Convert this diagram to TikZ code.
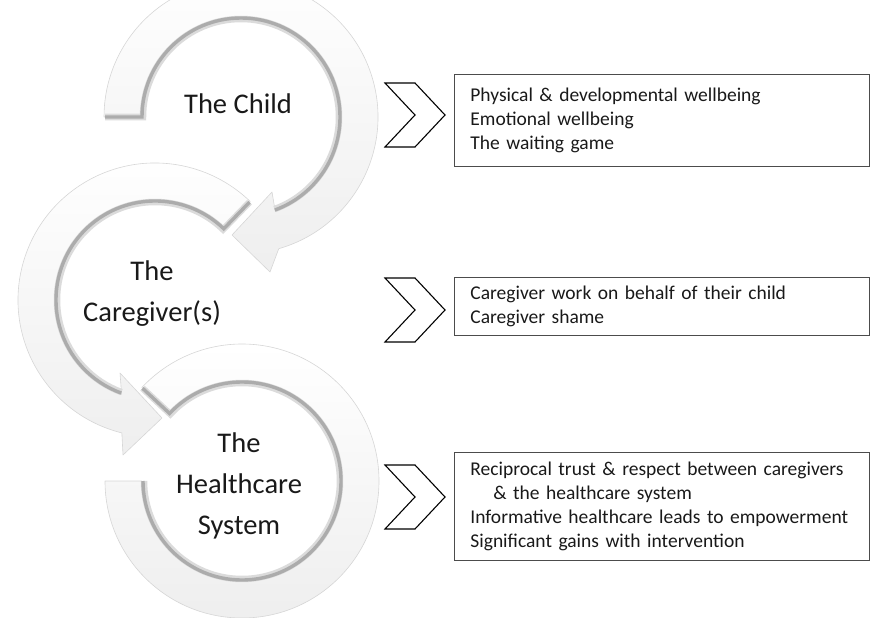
\documentclass[tikz,border=0pt]{standalone}
\usepackage{fontspec}
\setmainfont{Carlito}
\begin{document}
\begin{tikzpicture}[x=1pt, y=1pt,
    band/.style={top color=white, bottom color=gray!13, draw=gray!32, line width=0.6pt, line join=round},
    rim/.style={draw=gray!65, line width=3.4pt},
    rimsoft/.style={draw=gray!28, line width=6.5pt},
    chev/.style={draw=black, fill=white, line width=1.1pt, line join=miter},
    infobox/.style={draw=black!70, line width=0.8pt, anchor=north west, minimum width=415pt,
        text width=383pt, inner xsep=16pt, align=left, font=\fontsize{19.5}{23.7}\selectfont, text=black!90},
    title/.style={align=center, font=\fontsize{28.5}{41}\selectfont, text=black!90}]
    \useasboundingbox (0,0) rectangle (879,-618);

    \coordinate (c1) at (241,-117);
    \coordinate (c2) at (155,-300);
    \coordinate (c3) at (242,-481);

    % circle arrows
    \path[band] ([shift={(180:137)}]c1) -- ([shift={(180:100)}]c1) arc[start angle=180, end angle=-70, radius=100]
        -- (272,-192) -- (232,-235) -- (270,-272) -- ([shift={(-74:137)}]c1) arc[start angle=-74, end angle=180, radius=137] -- cycle;
    \path[band] ([shift={(46:137)}]c2) -- ([shift={(46:100)}]c2) arc[start angle=46, end angle=250.5, radius=100]
        -- (120,-373) -- (162,-418) -- (123,-455) -- ([shift={(256:137)}]c2) arc[start angle=256, end angle=46, radius=137] -- cycle;
    \path[band] ([shift={(137:137)}]c3) -- ([shift={(137:100)}]c3) arc[start angle=137, end angle=-180, radius=100]
        -- ([shift={(180:137)}]c3) arc[start angle=180, end angle=497, radius=137] -- cycle;

    % inner rims
    \foreach \c/\a/\b in {c1/180/-70, c2/46/250, c3/137/-180}{
        \draw[rimsoft] ([shift={(\a:136)}]\c) -- ([shift={(\a:98)}]\c) arc[start angle=\a, end angle=\b, radius=98];
        \draw[rim] ([shift={(\a:136)}]\c) -- ([shift={(\a:99)}]\c) arc[start angle=\a, end angle=\b, radius=99];
    }

    \node[title] (child) at (238,-104) {The Child};
    \node[title] (carer) at (152,-294) {The\\Caregiver(s)};
    \node[title] (health) at (239,-486) {The\\Healthcare\\System};

    % chevrons
    \foreach \y in {115,310,497}{
        \draw[chev] (385,-\y+32) -- (415,-\y+32) -- (445,-\y) -- (415,-\y-32) -- (385,-\y-32) -- (415,-\y) -- cycle;
    }

    \node[infobox, minimum height=92pt] (childbox) at (454,-74)
        {Physical \& developmental wellbeing\\Emotional wellbeing\\The waiting game};
    \node[infobox, minimum height=58pt] (carerbox) at (454,-277)
        {Caregiver work on behalf of their child\\Caregiver shame};
    \node[infobox, minimum height=108pt] (healthbox) at (454,-452)
        {Reciprocal trust \& respect between caregivers\\\hspace*{23pt}\& the healthcare system\\
         Informative healthcare leads to empowerment\\Significant gains with intervention};
\end{tikzpicture}
\end{document}
